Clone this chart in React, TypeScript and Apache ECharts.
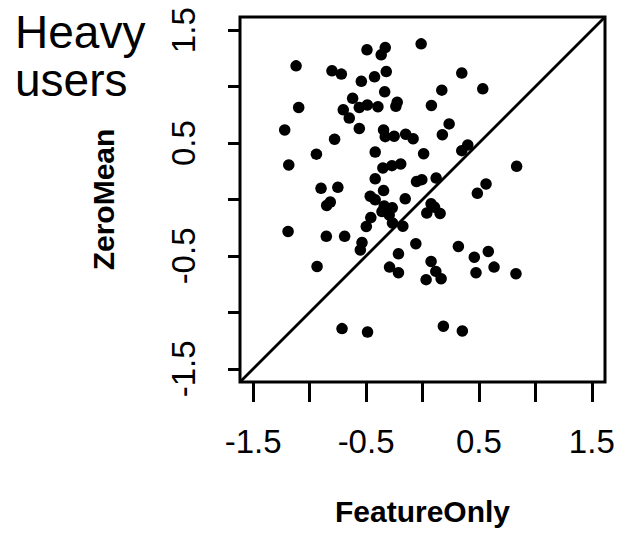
import React, { useEffect, useRef } from "react";
import * as echarts from "echarts";

const featureOnly: number[] = [
  -0.012, -0.492, -0.33, -0.366, -1.12, -0.802, -0.719, -0.425, -0.321, -0.542,
  -0.335, -0.619, -0.224, -0.236, -1.097, -0.702, -0.56, -0.489, -0.395, -0.649,
  -1.221, -0.56, -0.779, -0.345, -0.33, -0.251, -0.149, -0.083, 0.01, -0.94,
  -0.419, -1.185, -0.351, -0.271, -0.193, -0.419, -0.053, -0.006, 0.121, -0.345,
  -0.899, -0.75, -0.463, -0.419, -0.153, -0.817, -0.849, -0.339, -0.268, -0.359,
  -0.295, -0.458, -0.498, -0.266, -0.174, -1.191, -0.852, -0.69, -0.536, -0.551,
  -0.059, -0.213, -0.934, -0.292, -0.213, -0.713, -0.487, 0.348, 0.171, 0.534,
  0.079, 0.236, 0.176, 0.348, 0.401, 0.834, 0.563, 0.486, 0.076, 0.107,
  0.038, 0.156, 0.318, 0.459, 0.583, 0.076, 0.118, 0.032, 0.165, 0.474,
  0.634, 0.828, 0.185, 0.353,
];

const zeroMean: number[] = [
  1.379, 1.326, 1.346, 1.282, 1.184, 1.14, 1.111, 1.087, 1.134, 1.047,
  0.954, 0.897, 0.862, 0.826, 0.816, 0.795, 0.816, 0.838, 0.822, 0.722,
  0.616, 0.63, 0.534, 0.616, 0.557, 0.561, 0.579, 0.539, 0.406, 0.402,
  0.42, 0.306, 0.28, 0.3, 0.315, 0.183, 0.159, 0.176, 0.19, 0.079,
  0.099, 0.108, 0.029, -0.003, 0.006, -0.023, -0.053, -0.058, -0.074, -0.107,
  -0.137, -0.16, -0.239, -0.208, -0.237, -0.283, -0.326, -0.326, -0.381, -0.447,
  -0.392, -0.481, -0.593, -0.599, -0.649, -1.144, -1.174, 1.12, 0.969, 0.981,
  0.833, 0.67, 0.574, 0.433, 0.483, 0.294, 0.138, 0.055, -0.038, -0.069,
  -0.12, -0.124, -0.416, -0.511, -0.46, -0.549, -0.637, -0.71, -0.702, -0.649,
  -0.599, -0.657, -1.123, -1.165,
];

const axisMin = -1.617;
const axisMax = 1.617;
const tickValues = [-1.5, -1, -0.5, 0, 0.5, 1, 1.5];
const tickLabels = [-1.5, -0.5, 0.5, 1.5];
const xTitle = "FeatureOnly";
const yTitle = "ZeroMean";
const panelTitle = ["Heavy", "users"];

export default function App() {
  const ref = useRef<HTMLDivElement>(null);
  useEffect(() => {
    if (!ref.current) return;
    const chart = echarts.init(ref.current, undefined, { renderer: "svg" });
    const points = featureOnly.map((x, i) => [x, zeroMean[i]]);
    const font = "'Liberation Sans', Arial, Helvetica, sans-serif";
    chart.setOption({
      animation: false,
      backgroundColor: "#fff",
      grid: {
        left: 240,
        top: 17,
        right: 16,
        bottom: 153,
        show: true,
        borderColor: "#000",
        borderWidth: 3,
        backgroundColor: "transparent",
      },
      xAxis: {
        type: "value",
        min: axisMin,
        max: axisMax,
        name: xTitle,
        nameLocation: "middle",
        nameGap: 114,
        nameTextStyle: { fontFamily: font, fontWeight: "bold", fontSize: 30, color: "#000" },
        axisLine: { show: false, onZero: false },
        splitLine: { show: false },
        axisTick: {
          show: true,
          length: 20,
          customValues: tickValues,
          lineStyle: { color: "#000", width: 3 },
        },
        axisLabel: {
          customValues: tickLabels,
          margin: 43,
          fontFamily: font,
          fontSize: 33,
          color: "#000",
          formatter: (v: number) => String(v),
        },
      },
      yAxis: {
        type: "value",
        min: axisMin,
        max: axisMax,
        name: yTitle,
        nameLocation: "middle",
        nameGap: 122,
        nameRotate: 90,
        nameTextStyle: { fontFamily: font, fontWeight: "bold", fontSize: 30, color: "#000" },
        axisLine: { show: false, onZero: false },
        splitLine: { show: false },
        axisTick: {
          show: true,
          length: 12,
          customValues: tickValues,
          lineStyle: { color: "#000", width: 3 },
        },
        axisLabel: {
          customValues: tickLabels,
          rotate: 90,
          margin: 40,
          fontFamily: font,
          fontSize: 33,
          color: "#000",
          formatter: (v: number) => String(v),
        },
      },
      graphic: [
        {
          type: "text",
          left: 15,
          top: 9,
          style: { text: panelTitle[0], font: `46px ${font}`, fill: "#000" },
        },
        {
          type: "text",
          left: 15,
          top: 57,
          style: { text: panelTitle[1], font: `46px ${font}`, fill: "#000" },
        },
      ],
      series: [
        {
          type: "line",
          data: [
            [axisMin, axisMin],
            [axisMax, axisMax],
          ],
          symbol: "none",
          lineStyle: { color: "#000", width: 2.8 },
          silent: true,
        },
        {
          type: "scatter",
          data: points,
          symbolSize: 11.5,
          itemStyle: { color: "#000", opacity: 1 },
        },
      ],
    });
    return () => chart.dispose();
  }, []);
  return <div ref={ref} style={{ width: 621, height: 535, position: "absolute", left: 0, top: 0 }} />;
}
